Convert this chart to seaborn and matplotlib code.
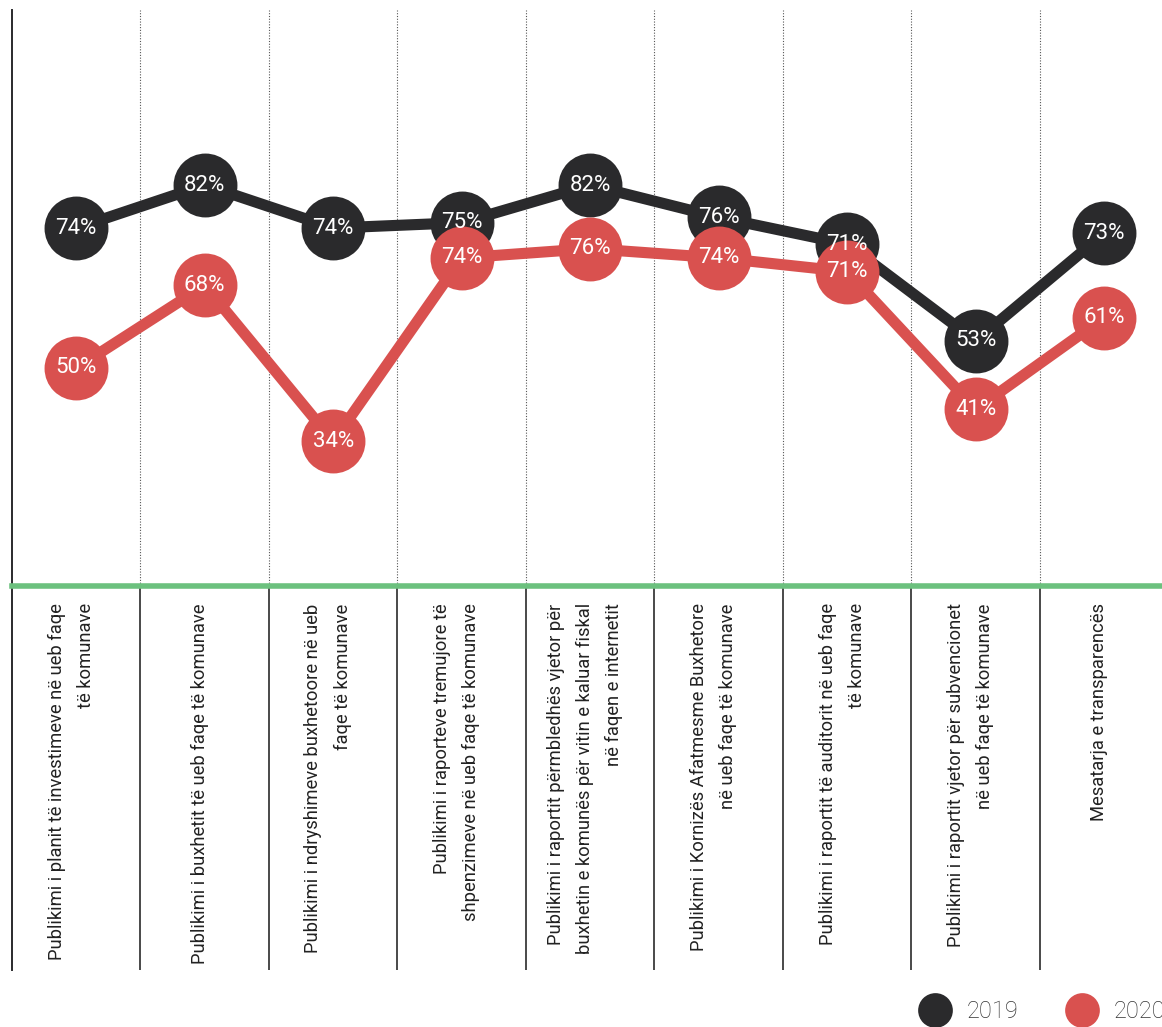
import numpy as np
import pandas as pd
import matplotlib
matplotlib.use("Agg")
import matplotlib.pyplot as plt
from matplotlib.lines import Line2D
import seaborn as sns

# ----------------------------------
# Data
# ----------------------------------
categories = [
    "Publikimi i planit të investimeve në ueb faqe\ntë komunave",
    "Publikimi i buxhetit të ueb faqe të komunave",
    "Publikimi i ndryshimeve buxhetoore në ueb\nfaqe të komunave",
    "Publikimi i raporteve tremujore të\nshpenzimeve në ueb faqe të komunave",
    "Publikimi i raportit përmbledhës vjetor për\nbuxhetin e komunës për vitin e kaluar fiskal\nnë faqen e internetit",
    "Publikimi i Kornizës Afatmesme Buxhetore\nnë ueb faqe të komunave",
    "Publikimi i raportit të auditorit në ueb faqe\ntë komunave",
    "Publikimi i raportit vjetor për subvencionet\nnë ueb faqe të komunave",
    "Mesatarja e transparencës",
]
values_2019 = [74, 82, 74, 75, 82, 76, 71, 53, 73]
values_2020 = [50, 68, 34, 74, 76, 74, 71, 41, 61]
years = ["2019", "2020"]

BLACK = "#2a2a2c"
RED = "#d9514f"
GREEN = "#6cc17e"
palette = {"2019": BLACK, "2020": RED}

positions = list(range(len(categories)))
df19 = pd.DataFrame({"pos": positions, "value": values_2019, "year": "2019"})
df20 = pd.DataFrame({"pos": positions, "value": values_2020, "year": "2020"})

# ----------------------------------
# Style
# ----------------------------------
sns.set_style("white")
plt.rcParams["font.family"] = ["Roboto", "DejaVu Sans"]

W, H = 1162, 1027
fig = plt.figure(figsize=(W / 100, H / 100), dpi=100)

left = 12 / W
top_px, green_px, bottom_px = 10, 586, 970
ax = fig.add_axes([left, 1 - green_px / H, 1 - left, (green_px - top_px) / H])
ax_lab = fig.add_axes([left, 1 - bottom_px / H, 1 - left, (bottom_px - green_px) / H], sharex=ax)
# the infographic offsets the 2020 series on its own (hidden) scale
ax20 = ax.twinx()

# ----------------------------------
# Lines
# ----------------------------------
line_kw = dict(marker="o", markersize=46, markeredgewidth=0, linewidth=8,
               errorbar=None, legend=False)
sns.lineplot(data=df19, x="pos", y="value", hue="year", palette=palette, ax=ax, **line_kw)
sns.lineplot(data=df20, x="pos", y="value", hue="year", palette=palette, ax=ax20, **line_kw)

ax.set_xlim(-0.5, 8.45)
ax.set_ylim(7.35, 114.6)
ax20.set_ylim(2.5, 128)

for a in (ax, ax20):
    a.set_xlabel("")
    a.set_ylabel("")
    a.set_yticks([])
ax.set_xticks([])

for i, v in enumerate(values_2019):
    ax20.text(i, v, f"{v}%", transform=ax.transData, color="white", fontsize=16,
              ha="center", va="center", zorder=10)
for i, v in enumerate(values_2020):
    ax20.text(i, v, f"{v}%", color="white", fontsize=16,
              ha="center", va="center", zorder=10)

for x in np.arange(0.5, len(categories) - 1, 1.0):
    ax.axvline(x, color="#555555", linestyle=(0, (1, 1.5)), linewidth=0.8, zorder=0)

for a in (ax, ax20):
    for side in ("top", "right", "left", "bottom"):
        a.spines[side].set_visible(False)
ax.spines["left"].set_visible(True)
ax.spines["left"].set_color(BLACK)
ax.spines["left"].set_linewidth(1.4)
ax20.spines["bottom"].set_visible(True)
ax20.spines["bottom"].set_color(GREEN)
ax20.spines["bottom"].set_linewidth(4)

# ----------------------------------
# Category labels
# ----------------------------------
ax_lab.set_ylim(0, 1)
ax_lab.set_yticks([])
ax_lab.tick_params(axis="x", length=0, labelbottom=False)
for side in ("top", "right", "bottom"):
    ax_lab.spines[side].set_visible(False)
ax_lab.spines["left"].set_color(BLACK)
ax_lab.spines["left"].set_linewidth(1.4)
for x in np.arange(0.5, len(categories) - 1, 1.0):
    ax_lab.axvline(x, color="#3a3a3a", linewidth=1.3)

for i, label in enumerate(categories):
    ax_lab.text(i - 0.04, 0.955, label, rotation=90, ha="center", va="top",
                multialignment="right", fontsize=13.2, color="#222222",
                linespacing=1.8)

# ----------------------------------
# Legend (runs off the right edge like the original)
# ----------------------------------
handles = [
    Line2D([], [], linestyle="", marker="o", markersize=25,
           markerfacecolor=palette[y], markeredgewidth=0)
    for y in years
]
fig.legend(
    handles, years, loc="center left", ncol=2, frameon=False,
    bbox_to_anchor=(917 / W, 1 - 1012 / H), borderpad=0, borderaxespad=0,
    handlelength=1.5, handletextpad=0.6, columnspacing=1.95,
    prop={"size": 17, "weight": "light"}, labelcolor="#333333",
)

fig.savefig("out.png", dpi=100)
